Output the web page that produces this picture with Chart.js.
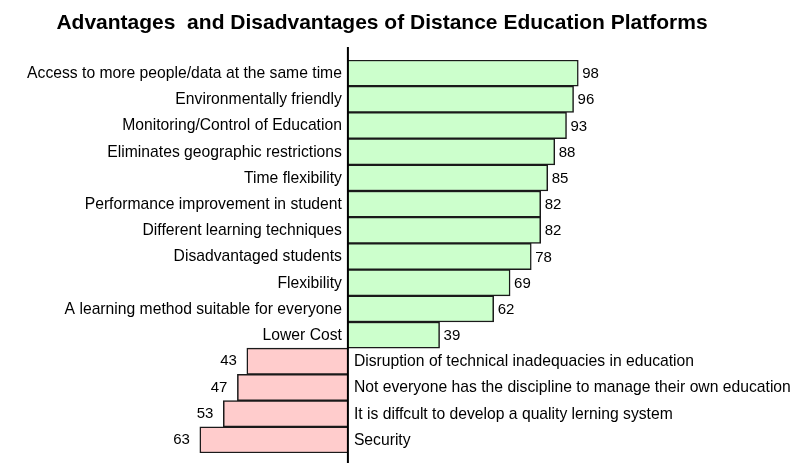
<!DOCTYPE html>
<html>
<head>
<meta charset="utf-8">
<script src="https://cdn.jsdelivr.net/npm/chart.js@4/dist/chart.umd.min.js"></script>
<style>
  html, body { margin: 0; padding: 0; background: #fff; }
  canvas { display: block; }
</style>
</head>
<body>
<canvas id="chart" width="811" height="463"></canvas>
<script>
const chartTitle = 'Advantages  and Disadvantages of Distance Education Platforms';

const advantageLabels = [
  'Access to more people/data at the same time',
  'Environmentally friendly',
  'Monitoring/Control of Education',
  'Eliminates geographic restrictions',
  'Time flexibility',
  'Performance improvement in student',
  'Different learning techniques',
  'Disadvantaged students',
  'Flexibility',
  'A learning method suitable for everyone',
  'Lower Cost'
];
const advantageValues = [98, 96, 93, 88, 85, 82, 82, 78, 69, 62, 39];

const disadvantageLabels = [
  'Disruption of technical inadequacies in education',
  'Not everyone has the discipline to manage their own education',
  'It is diffcult to develop a quality lerning system',
  'Security'
];
const disadvantageValues = [43, 47, 53, 63];

// One shared category list; advantages grow to the right, disadvantages to the left.
const categories = advantageLabels.concat(disadvantageLabels);
const nAdv = advantageValues.length;
const advData = categories.map((_, i) => (i < nAdv ? advantageValues[i] : null));
const disData = categories.map((_, i) => (i < nAdv ? null : -disadvantageValues[i - nAdv]));

const FONT = '"Liberation Sans", Arial, Helvetica, sans-serif';

// Draws category names beside the centre axis, the value at each bar end,
// the centre axis itself and the title.
const divergingLabels = {
  id: 'divergingLabels',
  afterDatasetsDraw(chart) {
    const ctx = chart.ctx;
    const xs = chart.scales.x;
    const ys = chart.scales.y;
    const zero = xs.getPixelForValue(0);
    ctx.save();
    ctx.fillStyle = '#000';
    ctx.textBaseline = 'middle';

    ctx.font = '15.7px ' + FONT;
    categories.forEach((name, i) => {
      const py = ys.getPixelForValue(i);
      const isAdv = i < nAdv;
      ctx.textAlign = isAdv ? 'right' : 'left';
      ctx.fillText(name, isAdv ? zero - 6 : zero + 6, py + 0.5);
    });

    ctx.font = '15px ' + FONT;
    chart.getDatasetMeta(0).data.forEach((bar, i) => {
      if (advData[i] == null) return;
      ctx.textAlign = 'left';
      ctx.fillText(String(advData[i]), bar.x + 4, bar.y + 1);
    });
    chart.getDatasetMeta(1).data.forEach((bar, i) => {
      if (disData[i] == null) return;
      ctx.textAlign = 'right';
      ctx.fillText(String(-disData[i]), bar.x - 10, bar.y);
    });

    ctx.strokeStyle = '#000';
    ctx.lineWidth = 2;
    ctx.beginPath();
    ctx.moveTo(zero, chart.chartArea.top - 13);
    ctx.lineTo(zero, chart.height);
    ctx.stroke();

    ctx.font = 'bold 21px ' + FONT;
    ctx.textAlign = 'center';
    ctx.fillText(chartTitle, 382, 23);
    ctx.restore();
  }
};

new Chart(document.getElementById('chart'), {
  type: 'bar',
  data: {
    labels: categories,
    datasets: [
      {
        label: 'Advantages',
        data: advData,
        backgroundColor: '#ccffcc',
        borderColor: '#1a1a1a',
        borderWidth: 1.5
      },
      {
        label: 'Disadvantages',
        data: disData,
        backgroundColor: '#ffcccc',
        borderColor: '#1a1a1a',
        borderWidth: 1.5
      }
    ]
  },
  options: {
    indexAxis: 'y',
    responsive: false,
    animation: false,
    layout: { padding: { top: 60, bottom: 10, left: 0, right: 0 } },
    datasets: {
      bar: { barPercentage: 1, categoryPercentage: 1, grouped: false }
    },
    scales: {
      x: { type: 'linear', min: -148, max: 197, display: false },
      y: { type: 'category', display: false }
    },
    plugins: {
      legend: { display: false },
      title: { display: false },
      tooltip: { enabled: false }
    }
  },
  plugins: [divergingLabels]
});
</script>
</body>
</html>
